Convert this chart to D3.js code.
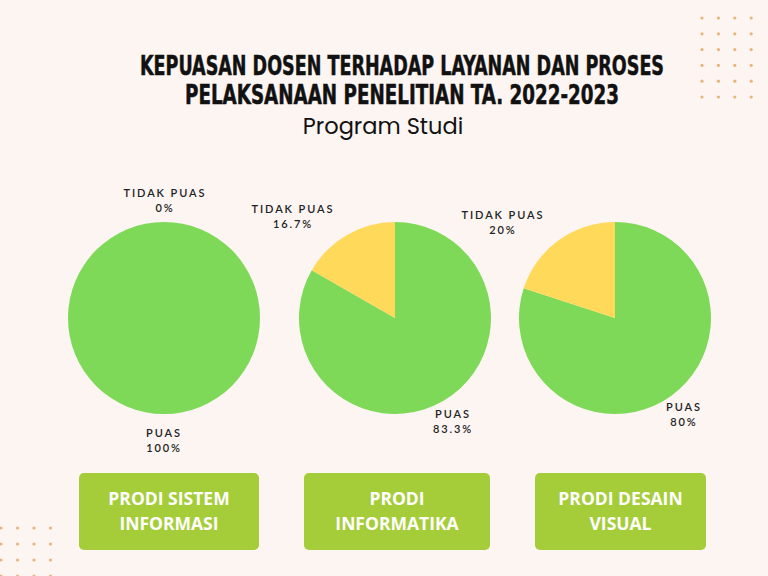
<!DOCTYPE html>
<html><head><meta charset="utf-8">
<script src="https://cdn.jsdelivr.net/npm/d3@7"></script>
<style>html,body{margin:0;padding:0;background:#fdf5f2;}svg{display:block;}</style>
</head><body>
<svg id="c" width="768" height="576"></svg>
<script>
const titleLines = ["KEPUASAN DOSEN TERHADAP LAYANAN DAN PROSES", "PELAKSANAAN PENELITIAN TA. 2022-2023"];
const subtitle = "Program Studi";
const prodi = ["PRODI SISTEM|INFORMASI", "PRODI|INFORMATIKA", "PRODI DESAIN|VISUAL"];
const categories = ["PUAS", "TIDAK PUAS"];
const puasValues = [100, 83.3, 80];
const tidakPuasValues = [0, 16.7, 20];
const puasLabels = ["100%", "83.3%", "80%"];
const tidakPuasLabels = ["0%", "16.7%", "20%"];

const svg = d3.select("#c");
svg.append("rect").attr("width",768).attr("height",576).attr("fill","#fdf5f2");

// decorative dots
const dotG = svg.append("g").attr("fill","#e9b47a");
d3.range(6).forEach(r=>d3.range(4).forEach(c=>{
  dotG.append("circle").attr("cx",702+c*16.4).attr("cy",18+r*15.8).attr("r",1.6);
}));
d3.range(4).forEach(r=>d3.range(4).forEach(c=>{
  dotG.append("circle").attr("cx",1+c*16.5).attr("cy",528+r*16).attr("r",1.6);
}));

// title
svg.selectAll("text.title").data(titleLines).enter().append("text")
  .attr("x",402).attr("y",(d,i)=>75+i*29).attr("text-anchor","middle")
  .attr("font-family","'Liberation Sans Narrow','DejaVu Sans Condensed',sans-serif")
  .attr("font-weight","bold").attr("font-size",26.5).attr("fill","#111")
  .attr("stroke","#111").attr("stroke-width",0.5)
  .attr("textLength",(d,i)=>i===0?524:434).attr("lengthAdjust","spacingAndGlyphs")
  .text(d=>d);
svg.append("text").attr("x",383).attr("y",134).attr("text-anchor","middle")
  .attr("font-family","Poppins,'Open Sans',sans-serif").attr("font-size",22.5).attr("fill","#111")
  .text(subtitle);

const centers = [164, 395, 615];
const color = d3.scaleOrdinal().domain(categories).range(["#7dd957","#ffd95a"]);
const pie = d3.pie().sort(null).value(d=>d.v);
const arc = d3.arc().innerRadius(0).outerRadius(96);

const labelPos = [
  {t:[165,193], p:[164,433]},
  {t:[293,209], p:[453,414]},
  {t:[503,215], p:[684,407]}
];

d3.range(3).forEach(i=>{
  const cx = centers[i], cy = 318;
  const data = [{k:"PUAS",v:puasValues[i]},{k:"TIDAK PUAS",v:tidakPuasValues[i]}];
  const g = svg.append("g").attr("transform",`translate(${cx},${cy})`);
  g.selectAll("path").data(pie(data)).enter().append("path")
    .attr("d",arc).attr("fill",d=>color(d.data.k));
  const lab = (pos, name, val) => {
    const t = svg.append("text").attr("text-anchor","middle")
      .attr("font-family","Lato,'Open Sans',sans-serif").attr("font-size",11)
      .attr("font-weight",600)
      .attr("letter-spacing",1.9).attr("fill","#222");
    t.append("tspan").attr("x",pos[0]).attr("y",pos[1]+4).text(name);
    t.append("tspan").attr("x",pos[0]).attr("y",pos[1]+19).text(val);
  };
  lab(labelPos[i].t, "TIDAK PUAS", tidakPuasLabels[i]);
  lab(labelPos[i].p, "PUAS", puasLabels[i]);
});

// boxes
const boxes = [[79,259],[304,490],[535,706]];
boxes.forEach((b,i)=>{
  svg.append("rect").attr("x",b[0]).attr("y",473).attr("width",b[1]-b[0]).attr("height",77)
    .attr("rx",5).attr("fill","#a5cd39");
  const t = svg.append("text").attr("text-anchor","middle")
    .attr("font-family","'Open Sans',sans-serif").attr("font-weight","bold")
    .attr("font-size",17.5).attr("fill","#fff");
  prodi[i].split("|").forEach((s,j)=>{
    t.append("tspan").attr("x",(b[0]+b[1])/2).attr("y",505+j*25).text(s);
  });
});
</script>
</body></html>
